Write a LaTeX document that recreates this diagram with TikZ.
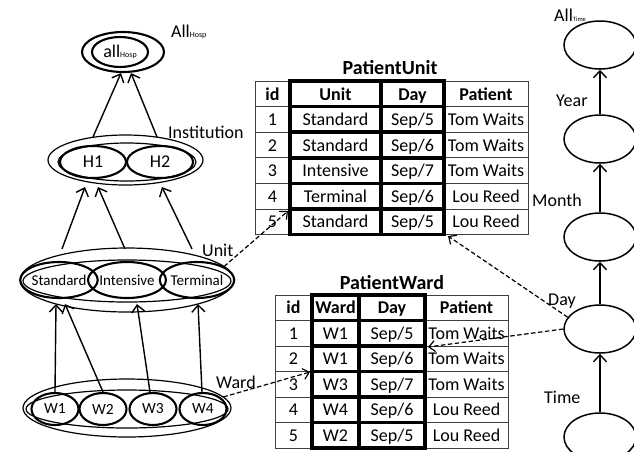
\documentclass[tikz,border=0pt]{standalone}
\usepackage{fontspec}
\setmainfont{Carlito}
\usetikzlibrary{arrows.meta,shapes.geometric}

\tikzset{
  member/.style={draw, ellipse, line width=2.1pt, inner sep=0pt},
  level/.style={line width=1.2pt},
  upar/.style={line width=1.4pt, -{Straight Barb[length=7pt,width=13pt]}},
  maparr/.style={line width=1.2pt, dash pattern=on 4.5pt off 2.5pt, -{Straight Barb[length=6pt,width=11pt]}},
  thincell/.style={line width=0.8pt, black!75},
  thickcell/.style={line width=3.5pt},
  lbl/.style={inner sep=0pt, anchor=west, font=\fontsize{18}{18}\selectfont},
  cell/.style={inner sep=0pt, anchor=base, font=\fontsize{18}{18}\selectfont},
  headcell/.style={cell, font=\bfseries\fontsize{18}{18}\selectfont},
}

\begin{document}
\begin{tikzpicture}[x=1pt,y=-1pt]
  \useasboundingbox (0,0) rectangle (634,451);

  % jerarquia hospital
  \node[member, minimum width=82pt, minimum height=40pt] (allOut) at (123,52) {};
  \node[member, minimum width=56pt, minimum height=30pt, font=\fontsize{18}{18}\selectfont] (allHosp) at (120,52) {all{\fontsize{8}{8}\selectfont Hosp}};
  \node[lbl] (lAllHosp) at (171,32) {All{\fontsize{8}{8}\selectfont Hosp}};

  % nivel Institution
  \draw[level] (125.5,160) ellipse [x radius=77.5pt, y radius=25pt];
  \draw[level] (127,162) ellipse [x radius=69pt, y radius=19pt];
  \node[member, minimum width=66pt, minimum height=32pt, font=\fontsize{18}{18}\selectfont] (H1) at (93,162) {H1};
  \node[member, minimum width=66pt, minimum height=32pt, font=\fontsize{18}{18}\selectfont] (H2) at (160,162) {H2};
  \node[lbl] (lInst) at (168,132) {Institution};

  % nivel Unit
  \draw[level] (127,280) ellipse [x radius=107pt, y radius=32pt];
  \draw[level] (127,281) ellipse [x radius=104pt, y radius=21pt];
  \node[member, minimum width=62pt, minimum height=36pt, font=\fontsize{15}{15}\selectfont] (Standard) at (59,280) {Standard};
  \node[member, minimum width=63pt, minimum height=36pt, font=\fontsize{15}{15}\selectfont] (Intensive) at (127,280) {Intensive};
  \node[member, minimum width=66pt, minimum height=36pt, font=\fontsize{15}{15}\selectfont] (Terminal) at (197,280) {Terminal};
  \node[lbl] (lUnit) at (202,250) {Unit};

  % nivel Ward
  \draw[level] (127,408) ellipse [x radius=104pt, y radius=29pt];
  \draw[level] (127,409) ellipse [x radius=101pt, y radius=19pt];
  \foreach \w/\x in {W1/55, W2/103, W3/153, W4/203}
    \node[member, minimum width=47pt, minimum height=32pt, font=\fontsize{15.5}{15.5}\selectfont] (\w) at (\x,409) {\w};
  \node[lbl] (lWard) at (216,382) {Ward};

  % flechas de roll-up
  \draw[upar] ([yshift=8pt]H1.north) -- ([xshift=-2pt]allOut.south);
  \draw[upar] ([xshift=-3pt,yshift=8pt]H2.north) -- ([xshift=8pt]allOut.south);
  \draw[upar] ([xshift=3pt,yshift=12pt]Standard.north) -- ([xshift=-8pt,yshift=-8pt]H1.south);
  \draw[upar] ([xshift=-2pt,yshift=12pt]Intensive.north) -- ([xshift=5pt,yshift=-8pt]H1.south);
  \draw[upar] ([xshift=-5pt,yshift=12pt]Terminal.north) -- ([xshift=2pt,yshift=-8pt]H2.south);
  \draw[upar] (W1.north) -- ([xshift=-3pt,yshift=-5pt]Standard.south);
  \draw[upar] (W2.north) -- ([xshift=6pt,yshift=-5pt]Standard.south);
  \draw[upar] ([xshift=-3pt]W3.north) -- ([xshift=10pt,yshift=-5pt]Intensive.south);
  \draw[upar] ([xshift=-1pt]W4.north) -- ([xshift=1pt,yshift=-5pt]Terminal.south);

  % jerarquia tiempo
  \foreach \t/\y in {tAll/45, tYear/139, tMonth/237, tDay/329, tTime/437}
    \node[draw, ellipse, line width=1.5pt, minimum width=72pt, minimum height=48pt] (\t) at (600,\y) {};
  \draw[upar] (tTime.north) -- (tDay.south);
  \draw[upar] (tDay.north) -- (tMonth.south);
  \draw[upar] (tMonth.north) -- (tYear.south);
  \draw[upar] (tYear.north) -- (tAll.south);
  \node[lbl] (lAllTime) at (554,15) {All{\fontsize{6.5}{6.5}\selectfont Time}};
  \node[lbl] (lYear) at (556,101) {Year};
  \node[lbl] (lMonth) at (532,200) {Month};
  \node[lbl] (lDay) at (548,301) {Day};
  \node[lbl] (lTime) at (544,397) {Time};

  % tabla PatientUnit
  \node[font=\bfseries\fontsize{20}{20}\selectfont] (puTitle) at (390,68) {PatientUnit};
  \draw[thincell] (255,81) rectangle (528,234.6);
  \foreach \y in {106.6,132.2,157.8,183.4,209}
    \draw[thincell] (255,\y) -- (528,\y);
  \draw[thincell] (290,81) -- (290,234.6);
  \draw[thincell] (444,81) -- (444,234.6);
  \foreach \t/\b in {81/106.6,106.6/132.2,132.2/157.8,157.8/183.4,183.4/209,209/234.6}
    \draw[thickcell] (290,\t) rectangle (444,\b);
  \draw[thickcell] (381,81) -- (381,234.6);
  \node[headcell] (pu-0-1) at (272.5,100) {id};
  \node[headcell] (pu-0-2) at (335.5,100) {Unit};
  \node[headcell] (pu-0-3) at (412.5,100) {Day};
  \node[headcell] (pu-0-4) at (486,100) {Patient};
  \foreach \n/\u/\d/\p [count=\i] in {1/Standard/5/Tom Waits, 2/Standard/6/Tom Waits, 3/Intensive/7/Tom Waits, 4/Terminal/6/Lou Reed, 5/Standard/5/Lou Reed} {
    \pgfmathsetmacro\yy{81+25.6*(\i+0.5)+6}
    \node[cell] (pu-\i-1) at (272.5,\yy) {\n};
    \node[cell] (pu-\i-2) at (335.5,\yy) {\u};
    \node[cell] (pu-\i-3) at (412.5,\yy) {Sep/\d};
    \node[cell] (pu-\i-4) at (486,\yy) {\p};
  }

  % tabla PatientWard
  \node[font=\bfseries\fontsize{20}{20}\selectfont] (pwTitle) at (392,283) {PatientWard};
  \draw[thincell] (275,295) rectangle (508,448);
  \foreach \y in {320.5,346,371.5,397,422.5}
    \draw[thincell] (275,\y) -- (508,\y);
  \draw[thincell] (312,295) -- (312,448);
  \draw[thincell] (425,295) -- (425,448);
  \foreach \t/\b in {295/320.5,320.5/346,346/371.5,371.5/397,397/422.5,422.5/448}
    \draw[thickcell] (312,\t) rectangle (425,\b);
  \draw[thickcell] (359,295) -- (359,448);
  \node[headcell] (pw-0-1) at (293.5,313.75) {id};
  \node[headcell] (pw-0-2) at (335.5,313.75) {Ward};
  \node[headcell] (pw-0-3) at (392,313.75) {Day};
  \node[headcell] (pw-0-4) at (466.5,313.75) {Patient};
  \foreach \n/\u/\d/\p [count=\i] in {1/W1/5/Tom Waits, 2/W1/6/Tom Waits, 3/W3/7/Tom Waits, 4/W4/6/Lou Reed, 5/W2/5/Lou Reed} {
    \pgfmathsetmacro\yy{295+25.5*(\i+0.5)+6}
    \node[cell] (pw-\i-1) at (293.5,\yy) {\n};
    \node[cell] (pw-\i-2) at (335.5,\yy) {\u};
    \node[cell] (pw-\i-3) at (392,\yy) {Sep/\d};
    \node[cell] (pw-\i-4) at (466.5,\yy) {\p};
  }

  % flechas a las tablas
  \coordinate (pu5) at (288,211);
  \coordinate (pw3) at (310,372);
  \coordinate (puday) at (448,236);
  \coordinate (pwday) at (428,347);
  \draw[maparr] (Terminal.north east) -- (pu5);
  \draw[maparr] ([xshift=3pt]W4.north east) -- (pw3);
  \draw[maparr] (tDay.160) -- (puday);
  \draw[maparr] (tDay.west) -- (pwday);
\end{tikzpicture}
\end{document}
